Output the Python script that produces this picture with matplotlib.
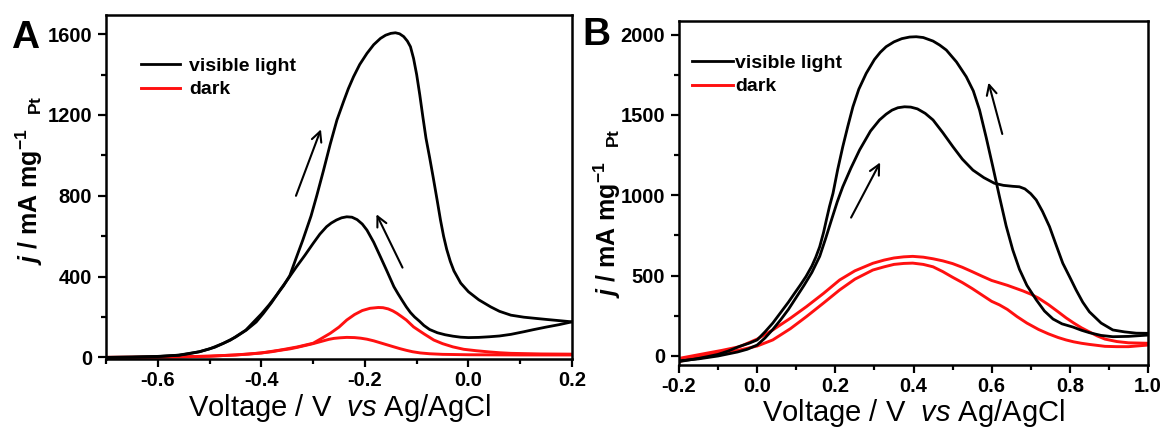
import matplotlib
matplotlib.use("Agg")
import matplotlib.pyplot as plt
from matplotlib.ticker import MultipleLocator, FormatStrFormatter

# Panel A: visible light (black) and dark (red), forward and reverse scans
a_light_fwd_v = [-0.70, -0.65, -0.60, -0.56, -0.52, -0.49, -0.46, -0.43, -0.40, -0.385, -0.37, -0.357,
                 -0.345, -0.333, -0.32, -0.304, -0.293, -0.28, -0.267, -0.254, -0.241, -0.232, -0.222,
                 -0.21, -0.196, -0.183, -0.17, -0.16, -0.15, -0.141, -0.133, -0.125, -0.118, -0.112,
                 -0.106, -0.100, -0.094, -0.088, -0.082, -0.075, -0.068, -0.0605, -0.054, -0.048,
                 -0.042, -0.035, -0.028, -0.015, 0.0, 0.02, 0.043, 0.06, 0.082, 0.107, 0.13, 0.15,
                 0.175, 0.2]
a_light_fwd_j = [0, 2, 5, 11, 28, 50, 85, 135, 215, 260, 310, 355,
                 405, 490, 580, 700, 800, 925, 1055, 1175, 1268, 1330, 1389,
                 1450, 1505, 1548, 1579, 1595, 1604, 1607, 1602, 1588, 1566, 1538,
                 1480, 1400, 1300, 1190, 1085, 990, 890, 779, 680, 600,
                 535, 475, 428, 368, 325, 285, 250, 228, 209, 199, 193, 188,
                 182, 176]
a_light_rev_v = [0.2, 0.175, 0.15, 0.125, 0.107, 0.082, 0.06, 0.04, 0.02, 0.0, -0.015, -0.03, -0.045,
                 -0.06, -0.075, -0.086, -0.095, -0.104, -0.112, -0.12, -0.128, -0.136, -0.144, -0.157,
                 -0.17, -0.183, -0.196, -0.205, -0.215, -0.225, -0.235, -0.245, -0.255, -0.265, -0.274,
                 -0.287, -0.30, -0.316, -0.332, -0.348, -0.364, -0.38, -0.396, -0.41, -0.429, -0.45,
                 -0.474, -0.50, -0.519, -0.54, -0.558, -0.60, -0.65, -0.70]
a_light_rev_j = [176, 162, 150, 137, 127, 114, 106, 102, 99, 98, 100, 105, 112,
                 122, 138, 158, 180, 200, 222, 250, 282, 315, 350, 425,
                 498, 570, 630, 660, 682, 694, 696, 691, 680, 665, 647,
                 610, 564, 505, 449, 390, 333, 272, 218, 175, 135, 100,
                 69, 42, 28, 18, 11, 4, 1, 0]
a_dark_fwd_v = [-0.70, -0.60, -0.55, -0.50, -0.45, -0.40, -0.364, -0.33, -0.30, -0.285, -0.267, -0.25,
                -0.235, -0.22, -0.205, -0.19, -0.174, -0.165, -0.155, -0.146, -0.138, -0.128, -0.12,
                -0.113, -0.106, -0.095, -0.085, -0.075, -0.067, -0.05, -0.03, -0.009, 0.015, 0.04,
                0.06, 0.082, 0.14, 0.2]
a_dark_fwd_j = [0, 1, 3, 6, 12, 22, 36, 52, 70, 92, 119, 150,
                185, 212, 232, 243, 247, 246, 240, 230, 218, 200, 185,
                168, 151, 132, 115, 99, 86, 68, 52, 40, 33, 27,
                23, 20, 17, 16]
a_dark_rev_v = [0.2, 0.1, 0.0, -0.05, -0.075, -0.093, -0.108, -0.12, -0.132, -0.144, -0.157, -0.17,
                -0.183, -0.196, -0.208, -0.22, -0.235, -0.248, -0.26, -0.27, -0.28, -0.29, -0.30,
                -0.315, -0.33, -0.345, -0.364, -0.38, -0.40, -0.425, -0.45, -0.50, -0.55, -0.62, -0.70]
a_dark_rev_j = [12, 12, 13, 15, 18, 22, 28, 35, 43, 52, 62, 72,
                82, 90, 95, 98, 99, 97, 94, 89, 82, 75, 68,
                59, 50, 42, 35, 28, 22, 16, 12, 6, 3, 1, 0]

# Panel B
b_light_fwd_v = [-0.2, -0.175, -0.15, -0.125, -0.1, -0.075, -0.045, -0.02, 0.0, 0.02, 0.04, 0.06, 0.08,
                 0.095, 0.11, 0.125, 0.14, 0.15, 0.16, 0.17, 0.177, 0.185, 0.194, 0.206, 0.219, 0.232,
                 0.245, 0.26, 0.279, 0.30, 0.315, 0.33, 0.35, 0.37, 0.39, 0.407, 0.425, 0.45, 0.467,
                 0.484, 0.51, 0.535, 0.553, 0.569, 0.586, 0.603, 0.62, 0.637, 0.654, 0.671, 0.69,
                 0.714, 0.735, 0.757, 0.78, 0.808, 0.83, 0.85, 0.88, 0.91, 0.95, 1.0]
b_light_fwd_j = [-35, -25, -15, -3, 10, 30, 60, 80, 100, 150, 205, 270, 335,
                 388, 440, 495, 560, 615, 680, 770, 846, 930, 1012, 1160, 1302, 1430,
                 1551, 1660, 1759, 1845, 1890, 1925, 1955, 1975, 1985, 1987, 1982, 1960, 1935,
                 1904, 1830, 1738, 1650, 1531, 1360, 1178, 991, 810, 660, 540, 440,
                 350, 280, 230, 200, 180, 160, 145, 128, 120, 122, 130]
b_light_rev_v = [1.0, 0.97, 0.94, 0.91, 0.88, 0.85, 0.833, 0.816, 0.8, 0.782, 0.765, 0.748, 0.73,
                 0.714, 0.7, 0.685, 0.671, 0.654, 0.63, 0.607, 0.58, 0.552, 0.525, 0.501, 0.475,
                 0.45, 0.43, 0.41, 0.393, 0.377, 0.36, 0.345, 0.33, 0.313, 0.29, 0.262, 0.24,
                 0.219, 0.205, 0.19, 0.175, 0.16, 0.14, 0.12, 0.1, 0.08, 0.06, 0.04, 0.02, 0.0,
                 -0.025, -0.05, -0.1, -0.15, -0.2]
b_light_rev_j = [141, 142, 150, 162, 205, 275, 335, 411, 490, 577, 690, 805, 900,
                 971, 1010, 1040, 1053, 1056, 1062, 1075, 1110, 1157, 1225, 1302, 1390,
                 1469, 1510, 1538, 1549, 1551, 1545, 1530, 1505, 1469, 1400, 1282, 1170,
                 1053, 960, 846, 730, 620, 520, 440, 365, 290, 225, 165, 112, 68,
                 42, 25, 0, -18, -30]
b_dark_up_v = [-0.2, -0.13, -0.09, -0.045, 0.0, 0.04, 0.085, 0.126, 0.17, 0.211, 0.25, 0.296, 0.325,
               0.35, 0.375, 0.398, 0.425, 0.45, 0.475, 0.50, 0.525, 0.55, 0.575, 0.60, 0.64, 0.68,
               0.70, 0.72, 0.745, 0.77, 0.79, 0.81, 0.83, 0.85, 0.87, 0.89, 0.92, 0.95, 1.0]
b_dark_up_j = [-15, 17, 35, 58, 105, 162, 235, 307, 390, 473, 530, 577, 597,
               610, 617, 620, 615, 605, 592, 575, 552, 525, 497, 470, 440, 405,
               385, 360, 320, 275, 238, 205, 175, 150, 125, 105, 90, 82, 79]
b_dark_low_v = [1.0, 0.95, 0.92, 0.89, 0.85, 0.83, 0.81, 0.79, 0.77, 0.745, 0.72, 0.69, 0.665,
                0.64, 0.62, 0.60, 0.575, 0.55, 0.525, 0.50, 0.475, 0.45, 0.425, 0.398, 0.375, 0.35,
                0.325, 0.296, 0.25, 0.211, 0.17, 0.126, 0.085, 0.04, 0.0, -0.045, -0.09, -0.13,
                -0.17, -0.2]
b_dark_low_j = [68, 58, 58, 60, 72, 79, 88, 100, 115, 138, 165, 205, 245,
                290, 318, 340, 380, 420, 457, 490, 525, 555, 570, 578, 576, 570,
                555, 535, 478, 411, 330, 245, 170, 100, 62, 37, 20, 6,
                -15, -35]

# scan direction arrows (tail, head) in data units
a_arrows = [((-0.335, 787), (-0.283, 1142)), ((-0.125, 432), (-0.180, 721))]
b_arrows = [((0.237, 846), (0.318, 1220)), ((0.629, 1365), (0.590, 1718))]

plt.rcParams.update({
    "font.family": "Liberation Sans",
    "font.weight": "bold",
    "axes.unicode_minus": False,
    "mathtext.fontset": "custom",
    "mathtext.rm": "Liberation Sans",
    "mathtext.it": "Liberation Sans:style=italic:weight=normal",
    "mathtext.bf": "Liberation Sans:weight=bold",
    "mathtext.bfit": "Liberation Sans:style=italic:weight=bold",
})

RED = "#ff1010"
fig = plt.figure(figsize=(11.65, 4.29), dpi=100)
axA = fig.add_axes([106 / 1165, 1 - 359 / 429, 466 / 1165, 344 / 429])
axB = fig.add_axes([679 / 1165, 1 - 364.5 / 429, 469 / 1165, 344 / 429])


def style(ax, xlim, ylim, xstep, ystep):
    ax.set_xlim(*xlim)
    ax.set_ylim(*ylim)
    ax.xaxis.set_major_locator(MultipleLocator(xstep))
    ax.xaxis.set_minor_locator(MultipleLocator(xstep / 2))
    ax.yaxis.set_major_locator(MultipleLocator(ystep))
    ax.yaxis.set_minor_locator(MultipleLocator(ystep / 2))
    ax.xaxis.set_major_formatter(FormatStrFormatter("%.1f"))
    ax.tick_params(which="both", direction="out", width=1.6, labelsize=14.5)
    ax.tick_params(which="major", length=6)
    ax.tick_params(which="minor", length=3.5)
    ax.tick_params(axis="x", pad=3)
    ax.tick_params(axis="y", pad=4)
    for s in ax.spines.values():
        s.set_linewidth(1.8)
    ax.set_xlabel(r"Voltage / V  $\mathit{vs}$ Ag/AgCl", fontsize=21, fontweight="normal", labelpad=1)


for ax, fwd, rev, dfwd, drev, arrows in [
    (axA, (a_light_fwd_v, a_light_fwd_j), (a_light_rev_v, a_light_rev_j),
     (a_dark_fwd_v, a_dark_fwd_j), (a_dark_rev_v, a_dark_rev_j), a_arrows),
    (axB, (b_light_fwd_v, b_light_fwd_j), (b_light_rev_v, b_light_rev_j),
     (b_dark_up_v, b_dark_up_j), (b_dark_low_v, b_dark_low_j), b_arrows),
]:
    ax.plot(*drev, color=RED, lw=2.1, solid_joinstyle="round")
    ax.plot(*dfwd, color=RED, lw=2.1, solid_joinstyle="round", label="dark")
    ax.plot(*rev, color="black", lw=2.0, solid_joinstyle="round")
    ax.plot(*fwd, color="black", lw=2.0, solid_joinstyle="round", label="visible light")
    for tail, head in arrows:
        ax.annotate("", xy=head, xytext=tail,
                    arrowprops=dict(arrowstyle="->", lw=1.5, color="black", mutation_scale=18))

style(axA, (-0.7, 0.2), (-8, 1695), 0.2, 400)
style(axB, (-0.2, 1.0), (-53, 2088), 0.2, 500)

ylab = r"$\mathbfit{j}\mathbf{\ /\ mA\ mg^{-1}\ \ {}_{Pt}}$"
axA.set_ylabel(ylab, fontsize=18)
axA.yaxis.set_label_coords(-0.13, 0.52)
axB.set_ylabel(ylab, fontsize=18)
axB.yaxis.set_label_coords(-0.12, 0.44)

hA, lA = axA.get_legend_handles_labels()
axA.legend(hA[::-1], lA[::-1], loc="upper left", bbox_to_anchor=(0.055, 0.905), frameon=False,
           fontsize=14, handlelength=2.0, handletextpad=0.45, labelspacing=0.3, borderpad=0)
hB, lB = axB.get_legend_handles_labels()
axB.legend(hB[::-1], lB[::-1], loc="upper left", bbox_to_anchor=(0.008, 0.93), frameon=False,
           fontsize=14, handlelength=2.1, handletextpad=0.1, labelspacing=0.3, borderpad=0)

fig.text(11 / 1165, 1 - 48 / 429, "A", fontsize=28, fontweight="bold")
fig.text(582 / 1165, 1 - 45 / 429, "B", fontsize=28, fontweight="bold")

fig.savefig("out.png", dpi=100)
